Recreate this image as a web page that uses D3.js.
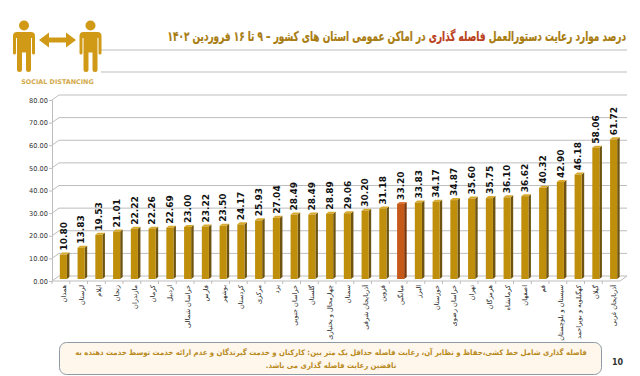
<!DOCTYPE html>
<html>
<head>
<meta charset="utf-8">
<script src="https://cdn.jsdelivr.net/npm/d3@7"></script>
<style>
    html, body { margin: 0; padding: 0; background: #fff; }
    svg { display: block; }
    text { font-family: "DejaVu Sans", sans-serif; }
</style>
</head>
<body>
<div id="chart"></div>
<script>
const provinces = ['همدان', 'لرستان', 'ایلام', 'زنجان', 'مازندران', 'کرمان', 'اردبیل', 'خراسان شمالی',
    'فارس', 'بوشهر', 'کردستان', 'مرکزی', 'یزد', 'خراسان جنوبی', 'گلستان', 'چهارمحال و بختیاری',
    'سمنان', 'آذربایجان شرقی', 'قزوین', 'میانگین', 'البرز', 'خوزستان', 'خراسان رضوی', 'تهران',
    'هرمزگان', 'کرمانشاه', 'اصفهان', 'قم', 'سیستان و بلوچستان', 'کهگیلویه و بویراحمد', 'گیلان', 'آذربایجان غربی'];
const values = [10.80, 13.83, 19.53, 21.01, 22.22, 22.26, 22.69, 23.00,
    23.22, 23.50, 24.17, 25.93, 27.04, 28.49, 28.49, 28.89,
    29.06, 30.20, 31.18, 33.20, 33.83, 34.17, 34.87, 35.60,
    35.75, 36.10, 36.62, 40.32, 42.90, 46.18, 58.06, 61.72];
const yTicks = [0, 10, 20, 30, 40, 50, 60, 70, 80];
const highlighted = 'میانگین';
const noteLines = [
    'فاصله گذاری شامل خط کشی،حفاظ و نظایر آن، رعایت فاصله حداقل یک متر بین: کارکنان  و خدمت گیرندگان و عدم ارائه خدمت توسط خدمت دهنده به',
    'نافضین رعایت فاصله گذاری می باشد.'
];

const width = 640;
const height = 376;
const margin = { top: 100, right: 20, bottom: 95, left: 52 };
const wall = { dx: 7, dy: -5 };    // depth of the fake 3d box
const gold = '#d09a17';

const svg = d3.select('#chart').append('svg')
    .attr('width', width)
    .attr('height', height);

const x = d3.scaleBand()
    .domain(provinces)
    .range([margin.left + 2.5, width - margin.right + 2.5])
    .paddingInner(0.6)
    .paddingOuter(0.3);

const y = d3.scaleLinear()
    .domain([0, 80])
    .range([height - margin.bottom, margin.top]);

// back wall gridlines, each one kinked down to the axis tick
svg.append('g').selectAll('path')
    .data(yTicks)
    .join('path')
    .attr('d', (d) => `M${margin.left},${y(d)}l${wall.dx},${wall.dy}H${width - 13}`)
    .attr('fill', 'none')
    .attr('stroke', '#bdbdbd')
    .attr('stroke-width', 1);

// floor front edge
svg.append('path')
    .attr('d', `M${margin.left},${y(0)}H${width - 20}l${wall.dx},${wall.dy}`)
    .attr('fill', 'none')
    .attr('stroke', '#bdbdbd');

const yAxis = svg.append('g')
    .attr('transform', `translate(${margin.left},0)`)
    .call(d3.axisLeft(y).tickValues(yTicks).tickSize(3).tickFormat((d) => d.toFixed(2)));
yAxis.select('.domain').attr('stroke', '#bdbdbd');
yAxis.selectAll('line').attr('stroke', '#bdbdbd');
yAxis.selectAll('text')
    .attr('font-size', 6.6)
    .attr('fill', '#333')
    .attr('x', -4);

// category ticks on the floor edge
svg.append('g').selectAll('line')
    .data(provinces)
    .join('line')
    .attr('x1', (d) => x(d) - x.step() * x.paddingInner() / 2 - 2.5)
    .attr('x2', (d) => x(d) - x.step() * x.paddingInner() / 2 - 2.5)
    .attr('y1', y(0))
    .attr('y2', y(0) + 3)
    .attr('stroke', '#bdbdbd');

const bars = svg.append('g').selectAll('g')
    .data(provinces.map((name, i) => ({ name, value: values[i] })))
    .join('g')
    .attr('transform', (d) => `translate(${x(d.name)},${y(d.value) - 2})`);

const fillFor = (d) => (d.name === highlighted ? '#c5591a' : '#bf8f0c');
const sideFor = (d) => (d.name === highlighted ? '#7c3509' : '#6e5410');
const topFor = (d) => (d.name === highlighted ? '#dc7a3a' : '#d8ab2e');

bars.append('path')
    .attr('d', (d) => `M${x.bandwidth()},0l2.5,-2v${y(0) - y(d.value)}l-2.5,2z`)
    .attr('fill', sideFor);
bars.append('path')
    .attr('d', `M0,0l2.5,-2h${x.bandwidth()}l-2.5,2z`)
    .attr('fill', topFor);
bars.append('rect')
    .attr('width', x.bandwidth())
    .attr('height', (d) => y(0) - y(d.value))
    .attr('fill', fillFor);

bars.append('text')
    .text((d) => d.value.toFixed(2))
    .attr('transform', `translate(${x.bandwidth() / 2 + 3.2},-4) rotate(-90)`)
    .attr('font-size', 9)
    .attr('font-weight', 'bold')
    .attr('fill', '#111');

// province names run down from the axis
svg.append('g').selectAll('text')
    .data(provinces)
    .join('text')
    .text((d) => d)
    .attr('transform', (d) => `translate(${x(d) + x.bandwidth() / 2 + 2.5},${y(0) + 4}) rotate(-90)`)
    .attr('direction', 'rtl')
    .attr('text-anchor', 'start')
    .attr('font-size', 6.6)
    .attr('fill', '#222');

// DejaVu's arabic runs wider than the original face, squeeze it sideways to fit
function squeeze(node, targetWidth) {
    return targetWidth / node.getBBox().width;
}

// header
const title = svg.append('text')
    .attr('direction', 'rtl')
    .attr('text-anchor', 'start')
    .attr('font-size', 13.5)
    .attr('font-weight', 'bold')
    .attr('fill', '#a87c10')
    .attr('stroke', '#a87c10')
    .attr('stroke-width', 0.25);
title.append('tspan').text('درصد موارد رعایت دستورالعمل ');
title.append('tspan').text('فاصله گذاری').attr('fill', '#b8401a').attr('stroke', '#b8401a');
title.append('tspan').text(' در اماکن عمومی استان های کشور – ۹ تا ۱۶ فروردین ۱۴۰۲');
title.attr('transform', `translate(626,41) scale(${squeeze(title.node(), 459)},1)`);

svg.selectAll('.rule')
    .data([50, 72])
    .join('line')
    .attr('class', 'rule')
    .attr('x1', 101)
    .attr('x2', 627)
    .attr('y1', (d) => d)
    .attr('y2', (d) => d)
    .attr('stroke', '#bdbdbd')
    .attr('stroke-width', 1);

// social distancing pictogram
function person(cx) {
    const g = svg.append('g').attr('fill', gold);
    g.append('circle').attr('cx', cx).attr('cy', 25.5).attr('r', 5);
    g.append('path').attr('d', `M${cx - 7},32h14a4,4 0 0 1 4,4v17a1.5,1.5 0 0 1 -3,0v-15h-1v31.5a2.2,2.2 0 0 1 -5,0v-17h-4v17a2.2,2.2 0 0 1 -5,0v-31.5h-1v15a1.5,1.5 0 0 1 -3,0v-17a4,4 0 0 1 4,-4z`);
}
person(24);
person(90.5);
svg.append('path')
    .attr('d', 'M39,40l10,-7.5v5h17v-5l10,7.5l-10,7.5v-5h-17v5z')
    .attr('fill', gold);
svg.append('text')
    .text('SOCIAL DISTANCING')
    .attr('x', 57.5)
    .attr('y', 83.5)
    .attr('text-anchor', 'middle')
    .attr('font-size', 6.4)
    .attr('font-weight', 'bold')
    .attr('fill', '#d2a94a');

// footnote box
svg.append('rect')
    .attr('x', 59.5)
    .attr('y', 342.5)
    .attr('width', 542)
    .attr('height', 32)
    .attr('rx', 7)
    .attr('fill', '#fff6ec')
    .attr('stroke', '#8d9ba6')
    .attr('stroke-width', 1);
const note = svg.append('g').selectAll('text')
    .data(noteLines)
    .join('text')
    .text((d) => d)
    .attr('direction', 'rtl')
    .attr('text-anchor', 'middle')
    .attr('font-size', 7.6)
    .attr('font-weight', 'bold')
    .attr('fill', '#b78a1c');
const noteScale = squeeze(note.node(), 512);
note.attr('transform', (d, i) => `translate(331,${355 + i * 13}) scale(${noteScale},1)`);

svg.append('text')
    .text('10')
    .attr('x', 612)
    .attr('y', 365)
    .attr('font-size', 8)
    .attr('font-weight', 'bold')
    .attr('fill', '#333');
</script>
</body>
</html>
